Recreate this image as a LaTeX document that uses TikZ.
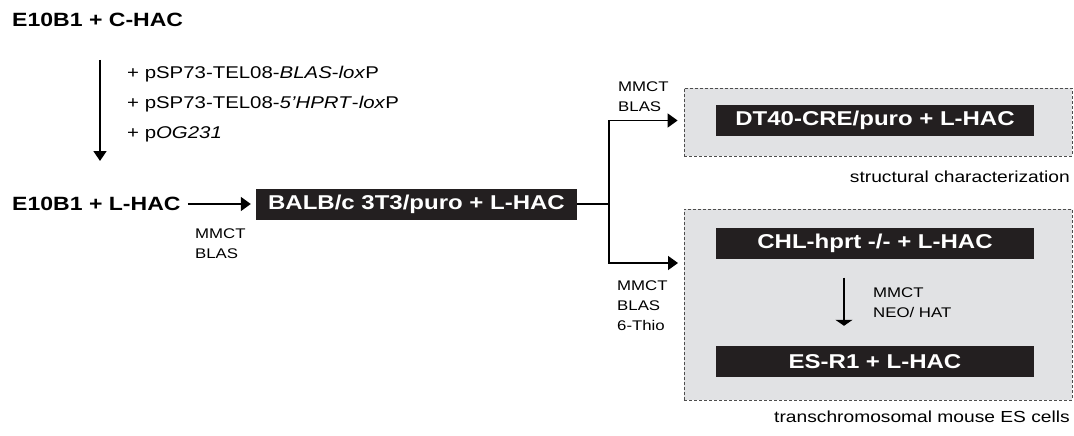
\documentclass[tikz,border=0pt]{standalone}
\usepackage{fontspec}
\setmainfont{Liberation Sans}[FakeStretch=1.2]
\usetikzlibrary{arrows.meta,positioning,calc}
\definecolor{cellblack}{HTML}{231F20}
\definecolor{panelgray}{HTML}{E1E2E4}
\definecolor{dashgray}{HTML}{4D4D4D}

\begin{document}
\begin{tikzpicture}[x=1pt, y=-1pt]
    \tikzset{
        big/.style={font=\bfseries\fontsize{20}{24}\selectfont, inner sep=0pt},
        head/.style={big, font=\bfseries\fontsize{19.2}{23}\selectfont, anchor=base west},
        small/.style={font=\fontsize{14}{17}\selectfont, inner sep=0pt, anchor=base west, align=left},
        cell/.style={big, fill=cellblack, text=white, minimum height=31pt},
        panel/.style={draw=dashgray, fill=panelgray, line width=0.8pt, dash pattern=on 3pt off 2pt},
        conn/.style={line width=1.6pt, -{Triangle[length=10pt,width=14pt]}},
    }
    \useasboundingbox (0,0) rectangle (1074,436);

    % starting cell line and vector steps
    \node[head] (cha) at (12,27) {E10B1 + C-HAC};
    \coordinate (vtop) at (100,60);
    \coordinate (vbot) at (100,161);
    \draw[conn, -{Triangle[length=10pt,width=13pt]}] (vtop) -- (vbot);
    \foreach \i/\y/\t in {1/78/{+ pSP73-TEL08-\textit{BLAS}-\textit{lox}P},
                          2/108/{+ pSP73-TEL08-\textit{5'HPRT}-\textit{lox}P},
                          3/138/{+ p\textit{OG231}}} {
            \node[small, font=\fontsize{17}{20}\selectfont] (vec\i) at (127,\y) {\t};
        }

    % transfer to BALB/c
    \node[head] (lha) at (12,210) {E10B1 + L-HAC};
    \node[cell, minimum width=321pt] (balb) at (416.5,204) {BALB/c 3T3/puro + L-HAC};
    \draw[conn, shorten <=7pt, shorten >=5pt] (lha.east |- balb.west) -- (balb.west);
    \node[small] (mm1) at (195,258) {MMCT\\[3pt]BLAS};

    % target panels
    \node[panel, minimum width=388pt, minimum height=68pt] (panA) at (878,122) {};
    \node[panel, minimum width=388pt, minimum height=191pt] (panB) at (878,304.5) {};
    \node[cell, minimum width=318pt] (dt) at (875,120.5) {DT40-CRE/puro + L-HAC};
    \node[cell, minimum width=318pt] (chl) at (875,243) {CHL-hprt -/- + L-HAC};
    \node[cell, minimum width=318pt] (esr) at (875,361.5) {ES-R1 + L-HAC};
    \node[small, font=\fontsize{16}{19}\selectfont, anchor=base east] (capA) at (1070,182) {structural characterization};
    \node[small, font=\fontsize{16}{19}\selectfont, anchor=base east] (capB) at (1070,422) {transchromosomal mouse ES cells};

    % branching
    \draw[line width=1.6pt] (balb.east) -- ++(32,0) coordinate (fork);
    \coordinate (upin) at (panA.west |- dt.west);
    \coordinate (lowin) at (684,263);
    \draw[conn, shorten >=6pt] (fork) |- (upin);
    \draw[conn, shorten >=6pt] (fork) |- (lowin);
    \node[small] (mm2) at (618,111) {MMCT\\[3pt]BLAS};
    \node[small] (mm3) at (617,330) {MMCT\\[3pt]BLAS\\[3pt]6-Thio};

    % CHL to ES cells
    \draw[line width=1.4pt, -{Triangle[length=6pt,width=17pt]}, shorten <=19pt, shorten >=20pt]
        ([xshift=-31pt]chl.south) -- ([xshift=-31pt]esr.north);
    \node[small] (mm4) at (873,317) {MMCT\\[3pt]NEO/ HAT};

\end{tikzpicture}
\end{document}
